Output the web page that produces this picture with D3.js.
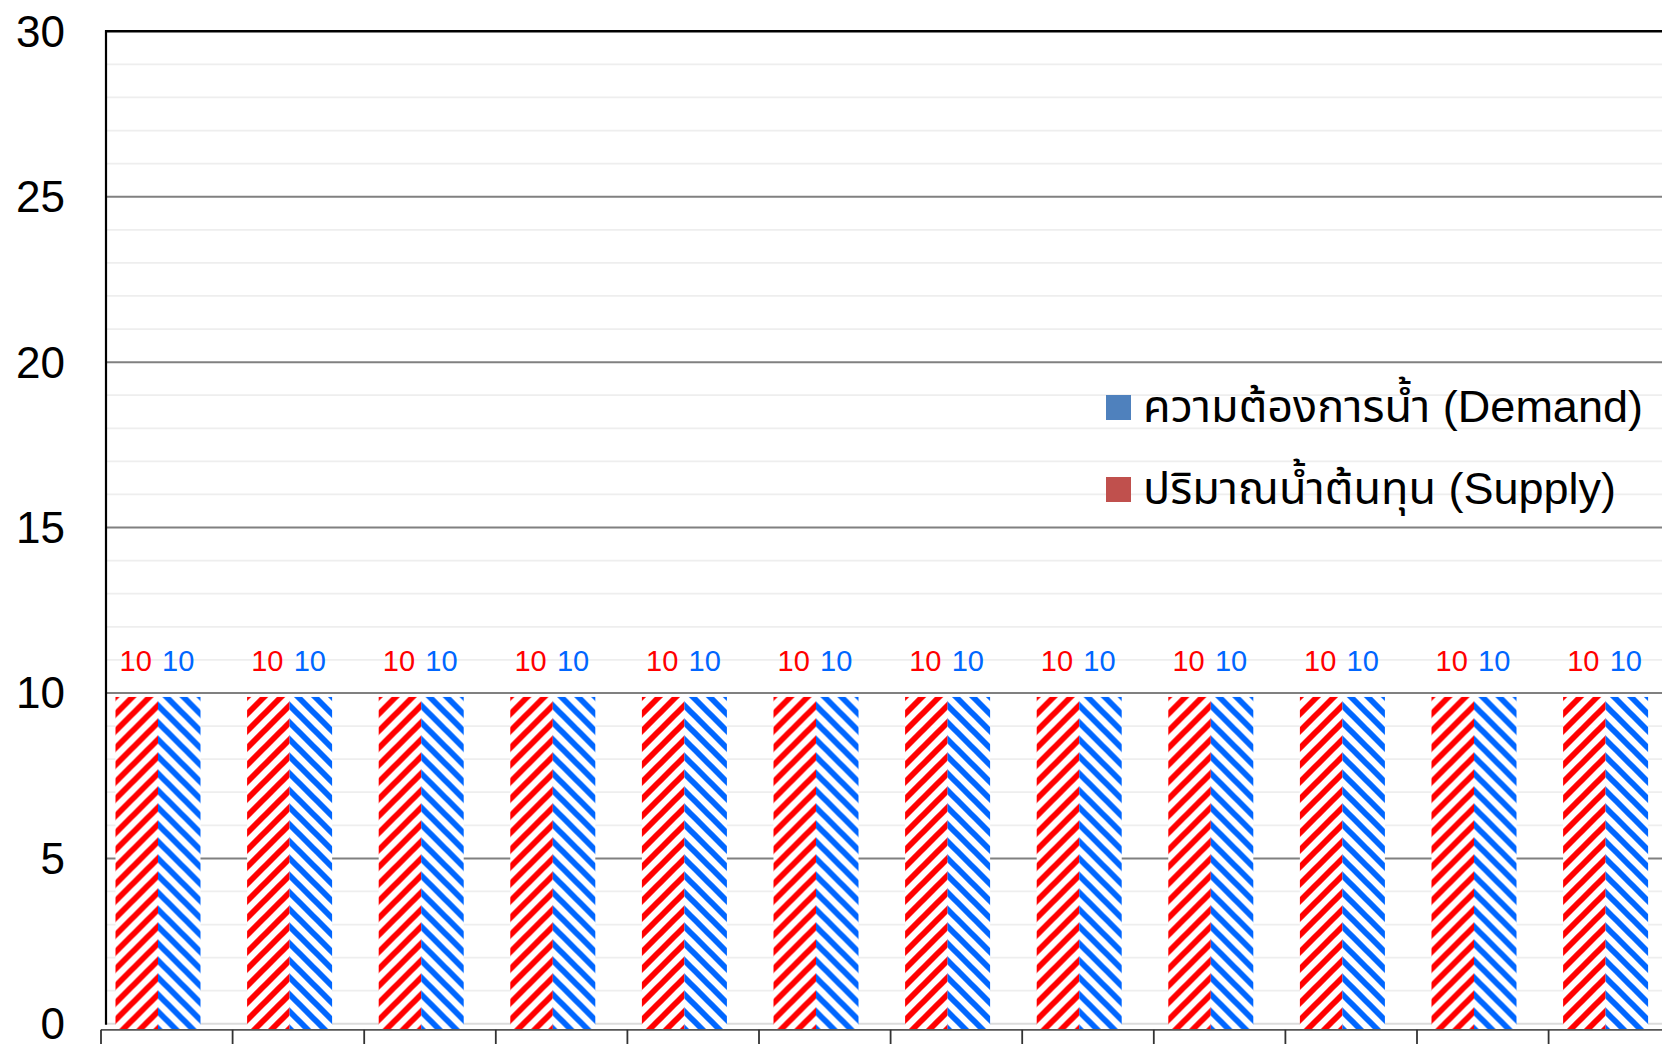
<!DOCTYPE html>
<html>
<head>
<meta charset="utf-8">
<script src="https://cdn.jsdelivr.net/npm/d3@7"></script>
<style>
  html, body { margin: 0; padding: 0; background: #fff; overflow: hidden; }
  svg { display: block; }
  text { font-family: "Liberation Sans", Arial, "Noto Sans Thai", "Noto Sans", sans-serif; }
</style>
</head>
<body>
<svg id="chart" width="1662" height="1044"></svg>
<script>
// Monthly water balance: source supply vs. demand
const months = ["ม.ค.", "ก.พ.", "มี.ค.", "เม.ย.", "พ.ค.", "มิ.ย.", "ก.ค.", "ส.ค.", "ก.ย.", "ต.ค.", "พ.ย.", "ธ.ค."];
const supply = [10, 10, 10, 10, 10, 10, 10, 10, 10, 10, 10, 10];
const demand = [10, 10, 10, 10, 10, 10, 10, 10, 10, 10, 10, 10];
const legendLabels = ["ความต้องการน้ำ (Demand)", "ปริมาณน้ำต้นทุน (Supply)"];
const yTicks = [0, 5, 10, 15, 20, 25, 30];

const svg = d3.select("#chart");

// layout
const plotLeft = 106, step = 131.6, firstTick = 101;
const groupOffset = 14.5, groupWidth = 85;

const y = d3.scaleLinear().domain([0, 30]).range([1023.8, 31.3]);
const axisY = y(0) + 6;

const x = d3.scaleBand()
  .domain(months)
  .range([firstTick, firstTick + step * months.length])
  .padding(0);

const xs = d3.scaleBand().domain(["supply", "demand"]).range([0, groupWidth]).padding(0);

const colors = { supply: "#ff0000", demand: "#0066ff" };
const legendColors = { supply: "#c0504d", demand: "#4f81bd" };

// diagonal hatch fills
const defs = svg.append("defs");
function hatch(id, color, rising) {
  const t = 17, q = t / 4;
  const d = rising
    ? `M${-q},${q}L${q},${-q}M0,${t}L${t},0M${t - q},${t + q}L${t + q},${t - q}`
    : `M${-q},${t - q}L${q},${t + q}M0,0L${t},${t}M${t - q},${-q}L${t + q},${q}`;
  const p = defs.append("pattern")
    .attr("id", id)
    .attr("patternUnits", "userSpaceOnUse")
    .attr("width", t).attr("height", t);
  p.append("rect").attr("width", t).attr("height", t).attr("fill", "#fff");
  p.append("path")
    .attr("d", d)
    .attr("fill", "none")
    .attr("stroke", color)
    .attr("stroke-width", 5.8);
}
hatch("hatch-supply", colors.supply, true);
hatch("hatch-demand", colors.demand, false);

const W = 1662 + 40;

// minor gridlines (every unit)
const minor = d3.range(1, 30).filter(v => v % 5 !== 0);
svg.append("g").selectAll("line").data(minor).join("line")
  .attr("x1", plotLeft).attr("x2", W)
  .attr("y1", d => y(d)).attr("y2", d => y(d))
  .attr("stroke", "#eeeeee").attr("stroke-width", 1.8);

// zero line
svg.append("line")
  .attr("x1", plotLeft).attr("x2", W)
  .attr("y1", y(0)).attr("y2", y(0))
  .attr("stroke", "#dcdcdc").attr("stroke-width", 2);

// major gridlines
svg.append("g").selectAll("line").data(yTicks.filter(v => v > 0 && v < 30)).join("line")
  .attr("x1", plotLeft).attr("x2", W)
  .attr("y1", d => y(d)).attr("y2", d => y(d))
  .attr("stroke", "#808080").attr("stroke-width", 2);

// top border
svg.append("line")
  .attr("x1", plotLeft - 1).attr("x2", W)
  .attr("y1", y(30)).attr("y2", y(30))
  .attr("stroke", "#000").attr("stroke-width", 2.4);

// left axis
svg.append("line")
  .attr("x1", plotLeft).attr("x2", plotLeft)
  .attr("y1", y(30) - 1).attr("y2", y(0) + 1)
  .attr("stroke", "#000").attr("stroke-width", 2.2);

// y tick labels
svg.append("g").selectAll("text").data(yTicks).join("text")
  .attr("x", 65).attr("y", d => y(d) + 15.5)
  .attr("text-anchor", "end")
  .attr("font-size", 44)
  .attr("fill", "#000")
  .text(d => d);

// bars
const rows = months.map((m, i) => ({ month: m, supply: supply[i], demand: demand[i] }));
const groups = svg.append("g").selectAll("g").data(rows).join("g")
  .attr("transform", d => `translate(${x(d.month) + groupOffset},0)`);

groups.selectAll("rect").data(d => ["supply", "demand"].map(k => ({ key: k, value: d[k] }))).join("rect")
  .attr("x", d => xs(d.key))
  .attr("width", xs.bandwidth())
  .attr("y", d => y(d.value) + 4)
  .attr("height", d => axisY - (y(d.value) + 4))
  .attr("fill", d => `url(#hatch-${d.key})`);

groups.selectAll("text").data(d => ["supply", "demand"].map(k => ({ key: k, value: d[k] }))).join("text")
  .attr("x", d => xs(d.key) + xs.bandwidth() / 2 - 1)
  .attr("y", d => y(d.value) - 22)
  .attr("text-anchor", "middle")
  .attr("font-size", 29)
  .attr("fill", d => colors[d.key])
  .text(d => d.value);

// x axis with category boundary ticks
svg.append("line")
  .attr("x1", firstTick).attr("x2", W)
  .attr("y1", axisY).attr("y2", axisY)
  .attr("stroke", "#555").attr("stroke-width", 1.8);
svg.append("g").selectAll("line").data(months).join("line")
  .attr("x1", d => x(d)).attr("x2", d => x(d))
  .attr("y1", axisY).attr("y2", axisY + 20)
  .attr("stroke", "#333").attr("stroke-width", 1.8);

// legend
const legendItems = [
  { label: legendLabels[0], color: legendColors.demand },
  { label: legendLabels[1], color: legendColors.supply }
];
const legend = svg.append("g").attr("transform", "translate(1106,395)");
const li = legend.selectAll("g").data(legendItems).join("g")
  .attr("transform", (d, i) => `translate(0,${i * 82})`);
li.append("rect").attr("width", 25).attr("height", 25).attr("fill", d => d.color);
li.append("text")
  .attr("x", 37).attr("y", 27)
  .attr("font-size", 45)
  .attr("fill", "#000")
  .text(d => d.label);
</script>
</body>
</html>
